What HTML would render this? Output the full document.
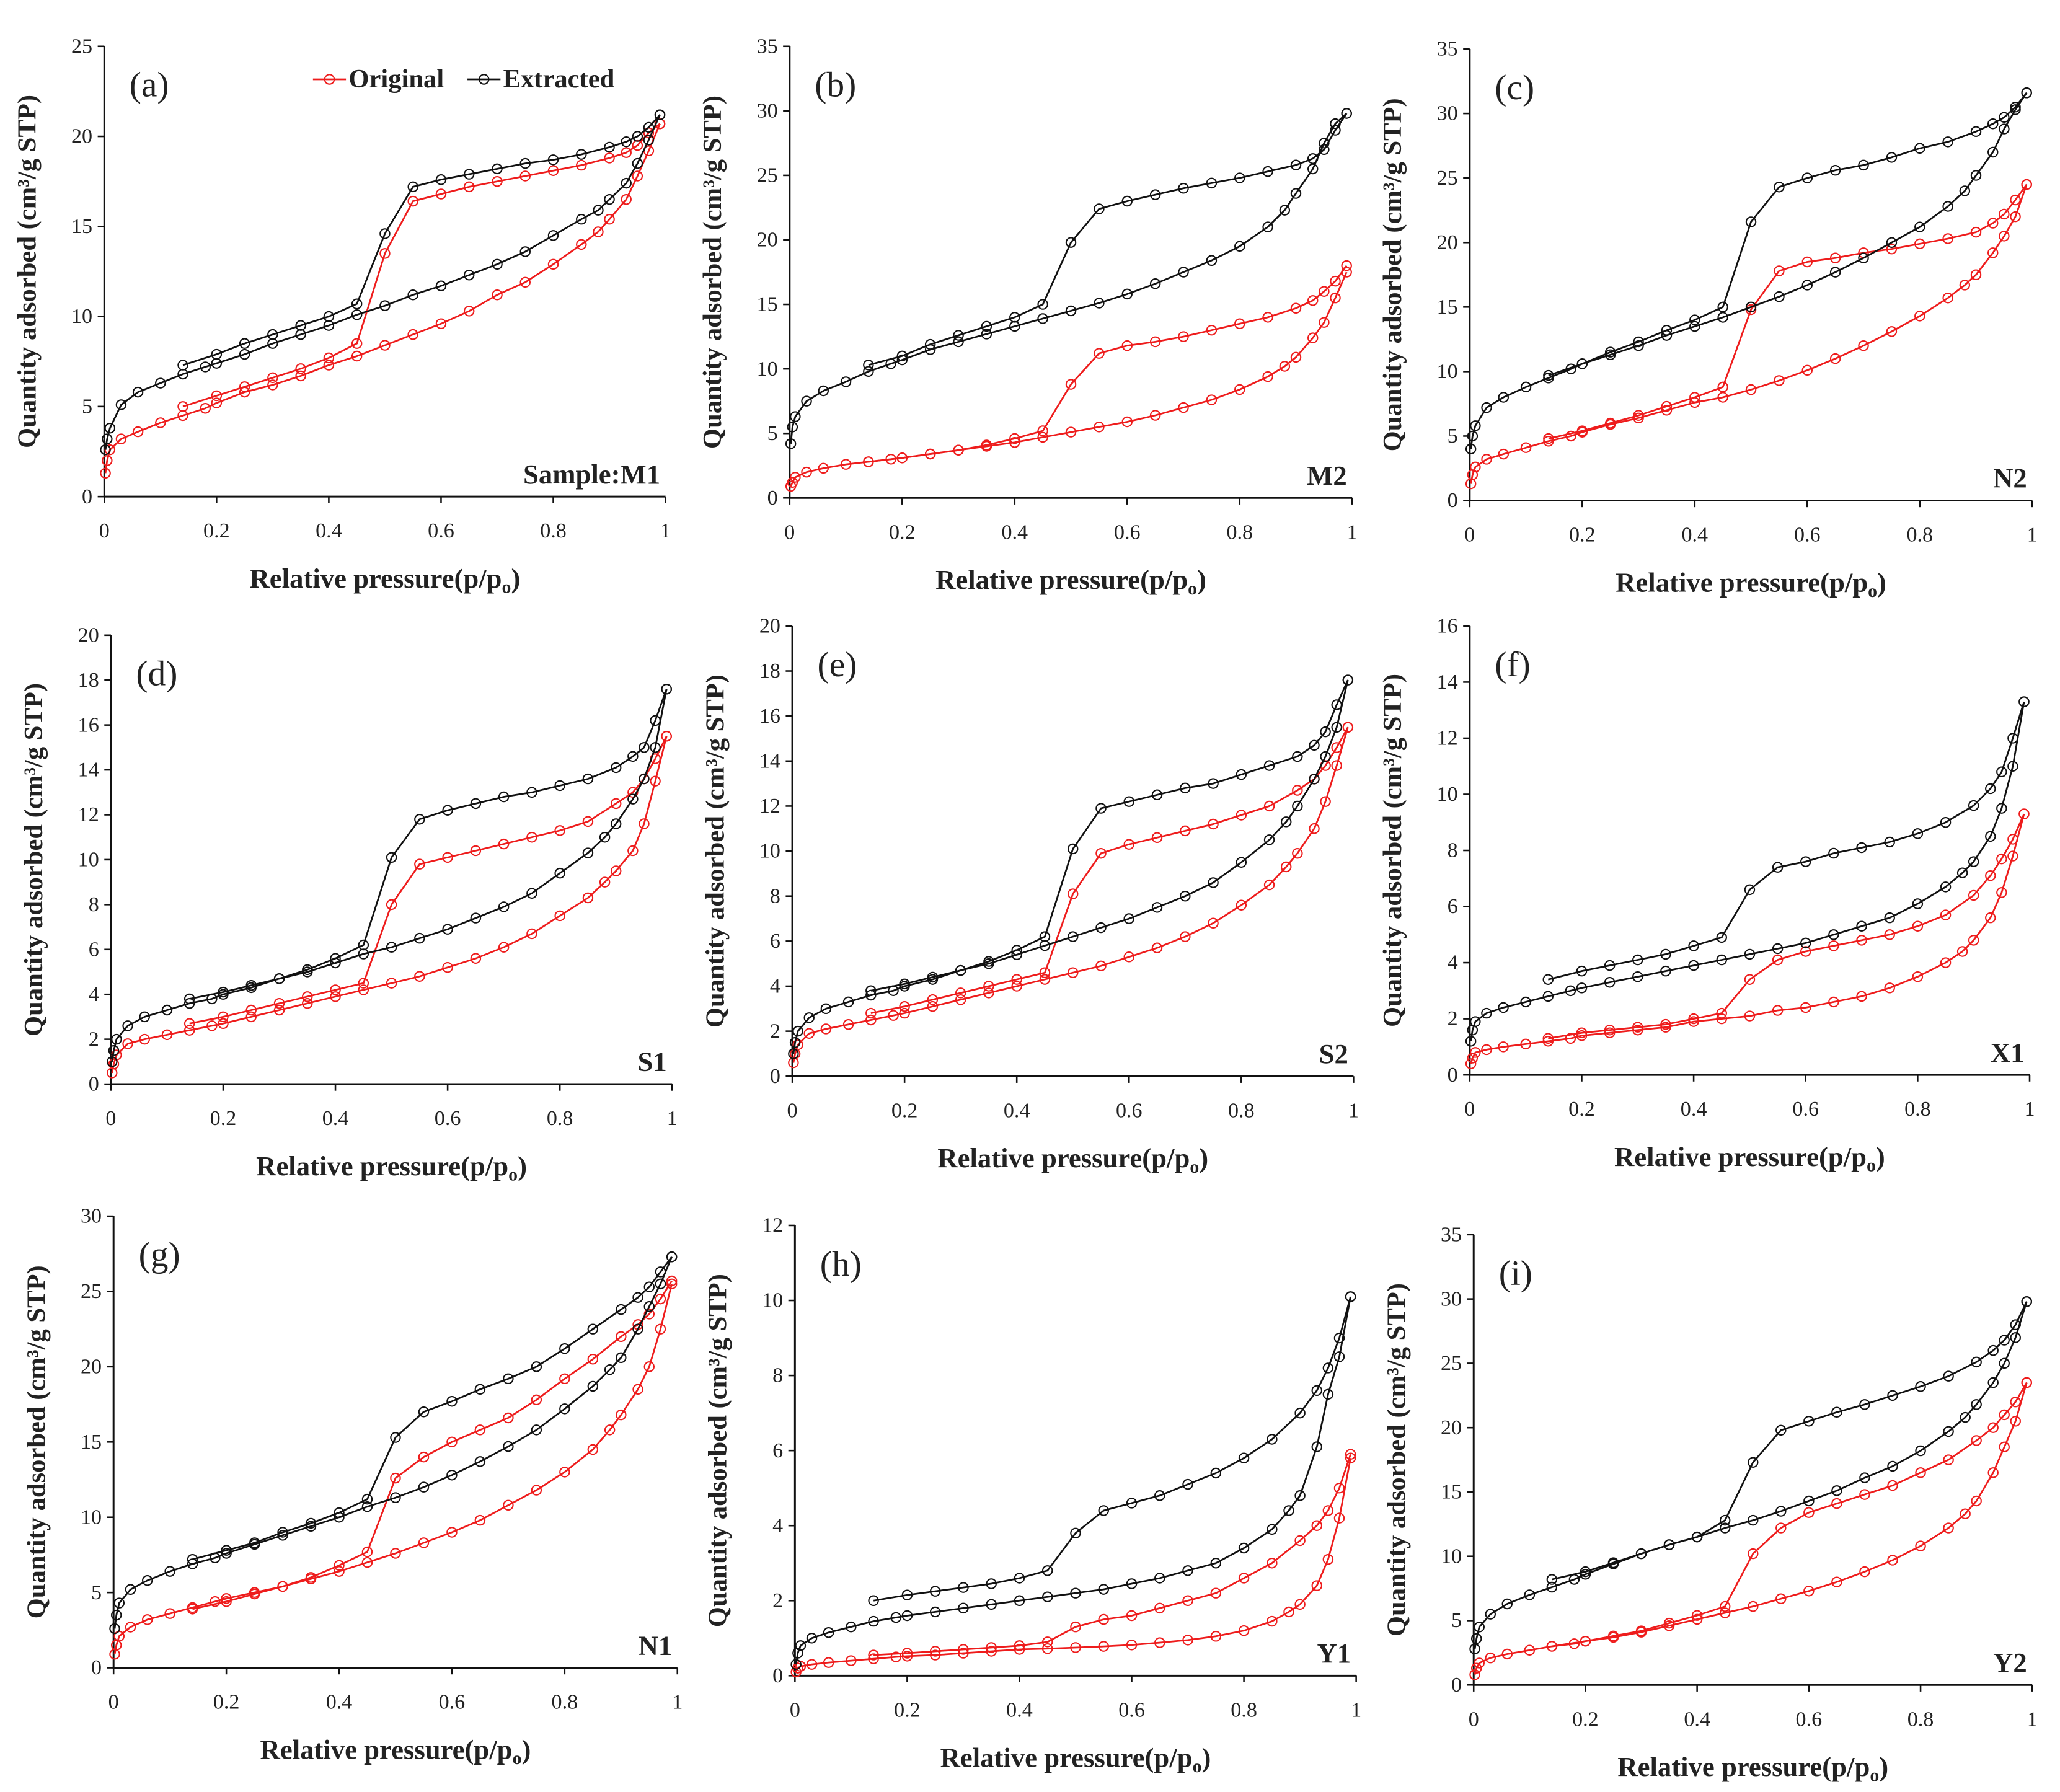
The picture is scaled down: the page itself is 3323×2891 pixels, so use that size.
<!DOCTYPE html>
<html><head><meta charset="utf-8"><style>
html,body{margin:0;padding:0;background:#fff}
svg{display:block}
text{font-family:"Liberation Serif",serif;fill:#222}
</style></head><body>
<svg id="fig" xmlns="http://www.w3.org/2000/svg" width="3323" height="2891" viewBox="0 0 1560 1357"></svg>
<script>
const adsP=[0.002,0.005,0.01,0.03,0.06,0.1,0.14,0.18,0.2,0.25,0.3,0.35,0.4,0.45,0.5,0.55,0.6,0.65,0.7,0.75,0.8,0.85,0.88,0.9,0.93,0.95,0.97,0.99];
const desP=[0.99,0.97,0.95,0.93,0.9,0.85,0.8,0.75,0.7,0.65,0.6,0.55,0.5,0.45,0.4,0.35,0.3,0.25,0.2,0.14];
const xTicks=[0,0.2,0.4,0.6,0.8,1];
const xTickLabels=["0","0.2","0.4","0.6","0.8","1"];
const panelLetters=["(a)","(b)","(c)","(d)","(e)","(f)","(g)","(h)","(i)"];
const sampleNames=["Sample:M1","M2","N2","S1","S2","X1","N1","Y1","Y2"];
const yMaxes=[25,35,35,20,20,16,30,12,35];
const ySteps=[5,5,5,2,2,2,5,2,5];
const origAds=[
[1.3,2.0,2.6,3.2,3.6,4.1,4.5,4.9,5.2,5.8,6.2,6.7,7.3,7.8,8.4,9.0,9.6,10.3,11.2,11.9,12.9,14.0,14.7,15.4,16.5,17.8,19.2,20.7],
[0.9,1.2,1.6,2.0,2.3,2.6,2.8,3.0,3.1,3.4,3.7,4.0,4.3,4.7,5.1,5.5,5.9,6.4,7.0,7.6,8.4,9.4,10.2,10.9,12.4,13.6,15.5,17.5],
[1.3,2.0,2.6,3.2,3.6,4.1,4.6,5.0,5.3,5.9,6.4,7.0,7.6,8.0,8.6,9.3,10.1,11.0,12.0,13.1,14.3,15.7,16.7,17.5,19.2,20.5,22.0,24.5],
[0.5,0.9,1.3,1.8,2.0,2.2,2.4,2.6,2.7,3.0,3.3,3.6,3.9,4.2,4.5,4.8,5.2,5.6,6.1,6.7,7.5,8.3,9.0,9.5,10.4,11.6,13.5,15.5],
[0.6,1.0,1.4,1.9,2.1,2.3,2.5,2.7,2.8,3.1,3.4,3.7,4.0,4.3,4.6,4.9,5.3,5.7,6.2,6.8,7.6,8.5,9.3,9.9,11.0,12.2,13.8,15.5],
[0.4,0.6,0.8,0.9,1.0,1.1,1.2,1.3,1.4,1.5,1.6,1.7,1.9,2.0,2.1,2.3,2.4,2.6,2.8,3.1,3.5,4.0,4.4,4.8,5.6,6.5,7.8,9.3],
[0.9,1.5,2.1,2.7,3.2,3.6,4.0,4.4,4.6,5.0,5.4,5.9,6.4,7.0,7.6,8.3,9.0,9.8,10.8,11.8,13.0,14.5,15.8,16.8,18.5,20.0,22.5,25.5],
[0.1,0.2,0.25,0.3,0.35,0.4,0.45,0.5,0.52,0.55,0.6,0.65,0.7,0.72,0.75,0.78,0.82,0.88,0.95,1.05,1.2,1.45,1.7,1.9,2.4,3.1,4.2,5.8],
[0.8,1.3,1.7,2.1,2.4,2.7,3.0,3.2,3.4,3.7,4.1,4.6,5.1,5.6,6.1,6.7,7.3,8.0,8.8,9.7,10.8,12.2,13.3,14.3,16.5,18.5,20.5,23.5]];
const origDes=[
[20.7,20.2,19.5,19.1,18.8,18.4,18.1,17.8,17.5,17.2,16.8,16.4,13.5,8.5,7.7,7.1,6.6,6.1,5.6,5.0],
[18.0,16.8,16.0,15.3,14.7,14.0,13.5,13.0,12.5,12.1,11.8,11.2,8.8,5.2,4.6,4.1,3.7,3.4,3.1,2.8],
[24.5,23.3,22.2,21.5,20.8,20.3,19.9,19.5,19.2,18.8,18.5,17.8,14.8,8.8,8.0,7.3,6.6,6.0,5.4,4.8],
[15.5,14.5,13.6,13.0,12.5,11.7,11.3,11.0,10.7,10.4,10.1,9.8,8.0,4.5,4.2,3.9,3.6,3.3,3.0,2.7],
[15.5,14.6,13.8,13.2,12.7,12.0,11.6,11.2,10.9,10.6,10.3,9.9,8.1,4.6,4.3,4.0,3.7,3.4,3.1,2.8],
[9.3,8.4,7.7,7.1,6.4,5.7,5.3,5.0,4.8,4.6,4.4,4.1,3.4,2.2,2.0,1.8,1.7,1.6,1.5,1.3],
[25.7,24.5,23.5,22.8,22.0,20.5,19.2,17.8,16.6,15.8,15.0,14.0,12.6,7.7,6.8,6.0,5.4,4.9,4.4,3.9],
[5.9,5.0,4.4,4.0,3.6,3.0,2.6,2.2,2.0,1.8,1.6,1.5,1.3,0.9,0.8,0.75,0.7,0.65,0.6,0.55],
[23.5,22.0,21.0,20.0,19.0,17.5,16.5,15.5,14.8,14.1,13.4,12.2,10.2,6.1,5.4,4.8,4.2,3.8,3.4,3.0]];
const extAds=[
[2.6,3.2,3.8,5.1,5.8,6.3,6.8,7.2,7.4,7.9,8.5,9.0,9.5,10.1,10.6,11.2,11.7,12.3,12.9,13.6,14.5,15.4,15.9,16.5,17.4,18.5,19.8,21.2],
[4.2,5.5,6.3,7.5,8.3,9.0,9.8,10.4,10.7,11.5,12.1,12.7,13.3,13.9,14.5,15.1,15.8,16.6,17.5,18.4,19.5,21.0,22.3,23.6,25.5,27.5,29.0,29.8],
[4.0,5.0,5.8,7.2,8.0,8.8,9.5,10.2,10.6,11.3,12.0,12.8,13.5,14.2,15.0,15.8,16.7,17.7,18.8,20.0,21.2,22.8,24.0,25.2,27.0,28.8,30.3,31.6],
[1.0,1.5,2.0,2.6,3.0,3.3,3.6,3.8,4.0,4.3,4.7,5.0,5.4,5.8,6.1,6.5,6.9,7.4,7.9,8.5,9.4,10.3,11.0,11.6,12.7,13.6,15.0,17.6],
[1.0,1.5,2.0,2.6,3.0,3.3,3.6,3.8,4.0,4.3,4.7,5.0,5.4,5.8,6.2,6.6,7.0,7.5,8.0,8.6,9.5,10.5,11.3,12.0,13.2,14.2,15.5,17.6],
[1.2,1.6,1.9,2.2,2.4,2.6,2.8,3.0,3.1,3.3,3.5,3.7,3.9,4.1,4.3,4.5,4.7,5.0,5.3,5.6,6.1,6.7,7.2,7.6,8.5,9.5,11.0,13.3],
[2.6,3.5,4.3,5.2,5.8,6.4,6.9,7.3,7.6,8.2,8.8,9.4,10.0,10.7,11.3,12.0,12.8,13.7,14.7,15.8,17.2,18.7,19.8,20.6,22.5,24.0,25.5,27.3],
[0.3,0.6,0.8,1.0,1.15,1.3,1.45,1.55,1.6,1.7,1.8,1.9,2.0,2.1,2.2,2.3,2.45,2.6,2.8,3.0,3.4,3.9,4.4,4.8,6.1,7.5,8.5,10.1],
[2.8,3.6,4.5,5.5,6.3,7.0,7.6,8.2,8.6,9.4,10.2,10.9,11.5,12.2,12.8,13.5,14.3,15.1,16.1,17.0,18.2,19.7,20.8,21.8,23.5,25.0,27.0,29.8]];
const extDes=[
[21.2,20.5,20.0,19.7,19.4,19.0,18.7,18.5,18.2,17.9,17.6,17.2,14.6,10.7,10.0,9.5,9.0,8.5,7.9,7.3],
[29.8,28.5,27.0,26.3,25.8,25.3,24.8,24.4,24.0,23.5,23.0,22.4,19.8,15.0,14.0,13.3,12.6,11.9,11.0,10.3],
[31.6,30.5,29.7,29.2,28.6,27.8,27.3,26.6,26.0,25.6,25.0,24.3,21.6,15.0,14.0,13.2,12.3,11.5,10.6,9.7],
[17.6,16.2,15.0,14.6,14.1,13.6,13.3,13.0,12.8,12.5,12.2,11.8,10.1,6.2,5.6,5.1,4.7,4.4,4.1,3.8],
[17.6,16.5,15.3,14.7,14.2,13.8,13.4,13.0,12.8,12.5,12.2,11.9,10.1,6.2,5.6,5.1,4.7,4.4,4.1,3.8],
[13.3,12.0,10.8,10.2,9.6,9.0,8.6,8.3,8.1,7.9,7.6,7.4,6.6,4.9,4.6,4.3,4.1,3.9,3.7,3.4],
[27.3,26.3,25.3,24.6,23.8,22.5,21.2,20.0,19.2,18.5,17.7,17.0,15.3,11.2,10.3,9.6,9.0,8.3,7.8,7.2],
[10.1,9.0,8.2,7.6,7.0,6.3,5.8,5.4,5.1,4.8,4.6,4.4,3.8,2.8,2.6,2.45,2.35,2.25,2.15,2.0],
[29.8,28.0,26.8,26.0,25.1,24.0,23.2,22.5,21.8,21.2,20.5,19.8,17.3,12.8,11.5,10.9,10.2,9.5,8.8,8.2]];

const layout=[[79,504,376,35],[598,1024,377,35],[1113,1539,379,37],[84,509,821,481],[600,1025,815,474],[1113,1537,814,474],[86,513,1263,921],[602,1027,1269,928],[1116,1539,1276,935]];
const NS="http://www.w3.org/2000/svg";
const svg=document.getElementById('fig');
function mk(tag,attrs,parent){const e=document.createElementNS(NS,tag);for(const k in attrs)e.setAttribute(k,attrs[k]);parent.appendChild(e);return e;}
function series(g,xs,ys,sx,sy,color,name){
  const pts=xs.map((p,i)=>sx(p).toFixed(2)+','+sy(ys[i]).toFixed(2)).join(' ');
  const pl=mk('polyline',{points:pts,fill:'none',stroke:color,'stroke-width':1.3},g);
  
  
  xs.forEach((p,i)=>{const c=mk('circle',{cx:sx(p),cy:sy(ys[i]),r:3.6,fill:'none',stroke:color,'stroke-width':1},g);
    
    });
}
layout.forEach((L,k)=>{
  const [x0,x1,yb,yt]=L;const ymax=yMaxes[k];
  const sx=p=>x0+p*(x1-x0);const sy=v=>yb-v/ymax*(yb-yt);
  const g=mk('g',{},svg);
  
  
  const ax=mk('path',{d:`M${x0},${yt} L${x0},${yb} L${x1},${yb}`,fill:'none',stroke:'#111','stroke-width':1.4},g);
  
  
  for(let v=0;v<=ymax+1e-9;v+=ySteps[k]){
    mk('line',{x1:x0-5,x2:x0,y1:sy(v),y2:sy(v),stroke:'#111','stroke-width':1.2},g);
    const t=mk('text',{x:x0-9,y:sy(v)+5,'text-anchor':'end','font-size':16},g);t.textContent=v;
    
    
  }
  xTicks.forEach((v,i)=>{
    mk('line',{x1:sx(v),x2:sx(v),y1:yb,y2:yb+5,stroke:'#111','stroke-width':1.2},g);
    const t=mk('text',{x:sx(v),y:yb+31,'text-anchor':'middle','font-size':16},g);t.textContent=xTickLabels[i];
    
    
  });
  const xt=mk('text',{x:(x0+x1)/2,y:yb+69,'text-anchor':'middle','font-size':21,'font-weight':'bold'},g);
  xt.innerHTML='Relative pressure(p/p<tspan font-size="14" dy="4">o</tspan><tspan dy="-4">)</tspan>';
  
  
  const ty=(yb+yt)/2;
  const yt2=mk('text',{x:x0-52,y:ty,'text-anchor':'middle','font-size':20,'font-weight':'bold',transform:`rotate(-90 ${x0-52} ${ty})`},g);
  yt2.textContent='Quantity adsorbed (cm³/g STP)';
  
  
  const pl=mk('text',{x:x0+19,y:yt+38,'font-size':27},g);pl.textContent=panelLetters[k];
  
  
  const sn=mk('text',{x:x1-4,y:yb-10,'text-anchor':'end','font-size':21,'font-weight':'bold'},g);sn.textContent=sampleNames[k];
  
  
  series(g,adsP,origAds[k],sx,sy,'#ee1c1c','original-adsorption');
  series(g,desP,origDes[k],sx,sy,'#ee1c1c','original-desorption');
  series(g,adsP,extAds[k],sx,sy,'#111','extracted-adsorption');
  series(g,desP,extDes[k],sx,sy,'#111','extracted-desorption');
  if(k===0){
    const lg=mk('g',{},g);
    
    
    mk('line',{x1:237,x2:262,y1:60,y2:60,stroke:'#ee1c1c','stroke-width':1.3},lg);
    mk('circle',{cx:249.5,cy:60,r:3.6,fill:'none',stroke:'#ee1c1c'},lg);
    const t1=mk('text',{x:264,y:66,'font-size':20,'font-weight':'bold'},lg);t1.textContent='Original';
    mk('line',{x1:354,x2:379,y1:60,y2:60,stroke:'#111','stroke-width':1.3},lg);
    mk('circle',{cx:366.5,cy:60,r:3.6,fill:'none',stroke:'#111'},lg);
    const t2=mk('text',{x:381,y:66,'font-size':20,'font-weight':'bold'},lg);t2.textContent='Extracted';
  }
});
</script>
</body></html>
